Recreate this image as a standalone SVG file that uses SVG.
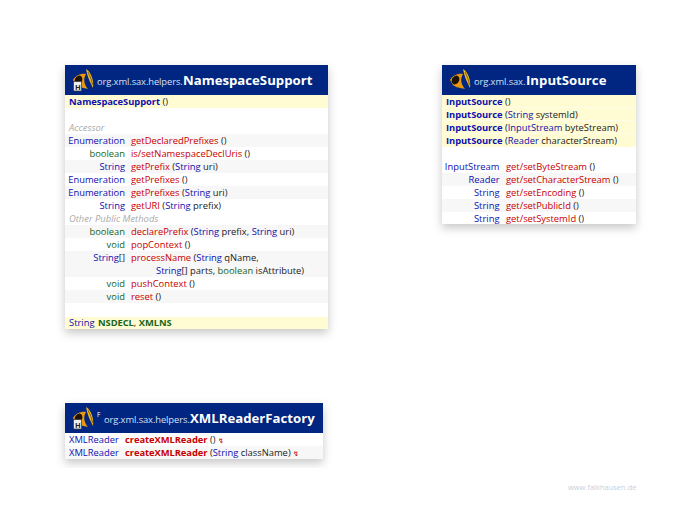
<svg xmlns="http://www.w3.org/2000/svg" xmlns:xlink="http://www.w3.org/1999/xlink" width="692" height="532" viewBox="0 0 692 532">
<style>
text{font-family:"Open Sans","Noto Sans","Liberation Sans",sans-serif;font-size:9.4px;fill:#222}
.r{text-anchor:end}
.t{fill:#1010b0}.p{fill:#1a661a}.m{fill:#c80000}
.b{font-weight:700;letter-spacing:-.06px}
.s{font-style:italic;fill:#aaa}
.h{fill:#d8e0f0;font-size:9.400px;letter-spacing:-.1px}
.n{fill:#fff;font-weight:700;font-size:13.200px}
.y{fill:#fffbd2}.z{fill:#f7f7f7}.hd{fill:#002681}
</style>
<defs>
<filter id="sh" x="-15%" y="-15%" width="130%" height="130%"><feDropShadow dx="0" dy="4" stdDeviation="5" flood-color="#000" flood-opacity=".22"/></filter>
<g id="horn">
<path d="M13 -2C18 1 21 9 20 17C17 11 14 5 13 -2Z" fill="#f0b820"/>
<path d="M15 1C17 5 19 10 19.500 14" fill="none" stroke="#6a4a00" stroke-width=".8"/>
<path d="M0 9C2 5 8 2 13 3C10 8 11 13 15 18C10 17 5 16 3 14Z" fill="#e89810"/>
<ellipse cx="5.500" cy="9" rx="3.600" ry="4.600" transform="rotate(30 5.500 9)" fill="#1a1006"/>
</g>
</defs>
<rect width="692" height="532" fill="#fff"/>
<g id="connectors"/>
<g id="NamespaceSupport">
<rect x="65" y="65" width="263" height="264" fill="#fff" filter="url(#sh)"/>
<rect class="hd" x="65" y="65" width="263" height="30"/>
<use xlink:href="#horn" href="#horn" x="73" y="71"/>
<rect x="73.500" y="81.500" width="8" height="9.500" fill="#eee" stroke="#333" stroke-width=".7"/>
<text x="75" y="89.500" style="font-size:7.500px;font-weight:700">H</text>
<text class="h" x="97" y="85">org.xml.sax.helpers.</text>
<text class="n" x="183" y="85">NamespaceSupport</text>
<rect class="y" x="65" y="95" width="263" height="13"/>
<rect class="z" x="65" y="134" width="263" height="13"/>
<rect class="z" x="65" y="160" width="263" height="13"/>
<rect class="z" x="65" y="186" width="263" height="13"/>
<rect class="z" x="65" y="225" width="263" height="13"/>
<rect class="z" x="65" y="251" width="263" height="26"/>
<rect class="z" x="65" y="290" width="263" height="13"/>
<rect class="y" x="65" y="317" width="263" height="12"/>
<text x="69" y="105"><tspan class="t b">NamespaceSupport</tspan> ()</text>
<text class="s" x="69" y="131">Accessor</text>
<text class="r t" x="125" y="144">Enumeration</text><text x="131" y="144"><tspan class="m">getDeclaredPrefixes</tspan> ()</text>
<text class="r p" x="125" y="157">boolean</text><text x="131" y="157"><tspan class="m">is/setNamespaceDeclUris</tspan> ()</text>
<text class="r t" x="125" y="170">String</text><text x="131" y="170"><tspan class="m">getPrefix</tspan> (<tspan class="t">String</tspan> uri)</text>
<text class="r t" x="125" y="183">Enumeration</text><text x="131" y="183"><tspan class="m">getPrefixes</tspan> ()</text>
<text class="r t" x="125" y="196">Enumeration</text><text x="131" y="196"><tspan class="m">getPrefixes</tspan> (<tspan class="t">String</tspan> uri)</text>
<text class="r t" x="125" y="209">String</text><text x="131" y="209"><tspan class="m">getURI</tspan> (<tspan class="t">String</tspan> prefix)</text>
<text class="s" x="69" y="222">Other Public Methods</text>
<text class="r p" x="125" y="235">boolean</text><text x="131" y="235"><tspan class="m">declarePrefix</tspan> (<tspan class="t">String</tspan> prefix, <tspan class="t">String</tspan> uri)</text>
<text class="r p" x="125" y="248">void</text><text x="131" y="248"><tspan class="m">popContext</tspan> ()</text>
<text class="r" x="125" y="261"><tspan class="t">String</tspan>[]</text><text x="131" y="261"><tspan class="m">processName</tspan> (<tspan class="t">String</tspan> qName,</text>
<text x="156" y="274"><tspan class="t">String</tspan>[] parts, <tspan class="p">boolean</tspan> isAttribute)</text>
<text class="r p" x="125" y="287">void</text><text x="131" y="287"><tspan class="m">pushContext</tspan> ()</text>
<text class="r p" x="125" y="300">void</text><text x="131" y="300"><tspan class="m">reset</tspan> ()</text>
<text x="69" y="326"><tspan class="t">String</tspan> <tspan class="p b" dx="1">NSDECL</tspan>, <tspan class="p b">XMLNS</tspan></text>
</g>
<g id="InputSource">
<rect x="442" y="65" width="194" height="159" fill="#fff" filter="url(#sh)"/>
<rect class="hd" x="442" y="65" width="194" height="30"/>
<use xlink:href="#horn" href="#horn" x="450" y="71"/>
<text class="h" x="474" y="85">org.xml.sax.</text>
<text class="n" x="526" y="85">InputSource</text>
<rect class="y" x="442" y="95" width="194" height="12.500"/>
<rect class="y" x="442" y="108" width="194" height="12.500"/>
<rect class="y" x="442" y="121" width="194" height="12.500"/>
<rect class="y" x="442" y="134" width="194" height="13"/>
<rect class="z" x="442" y="173" width="194" height="13"/>
<rect class="z" x="442" y="199" width="194" height="13"/>
<text x="446" y="105"><tspan class="t b">InputSource</tspan> ()</text>
<text x="446" y="118"><tspan class="t b">InputSource</tspan> (<tspan class="t">String</tspan> systemId)</text>
<text x="446" y="131"><tspan class="t b">InputSource</tspan> (<tspan class="t">InputStream</tspan> byteStream)</text>
<text x="446" y="144"><tspan class="t b">InputSource</tspan> (<tspan class="t">Reader</tspan> characterStream)</text>
<text class="r t" x="499.500" y="170">InputStream</text><text x="506" y="170"><tspan class="m">get/setByteStream</tspan> ()</text>
<text class="r t" x="499.500" y="183">Reader</text><text x="506" y="183"><tspan class="m">get/setCharacterStream</tspan> ()</text>
<text class="r t" x="499.500" y="196">String</text><text x="506" y="196"><tspan class="m">get/setEncoding</tspan> ()</text>
<text class="r t" x="499.500" y="209">String</text><text x="506" y="209"><tspan class="m">get/setPublicId</tspan> ()</text>
<text class="r t" x="499.500" y="222">String</text><text x="506" y="222"><tspan class="m">get/setSystemId</tspan> ()</text>
</g>
<g id="XMLReaderFactory">
<rect x="65" y="403" width="258" height="56" fill="#fff" filter="url(#sh)"/>
<rect class="hd" x="65" y="403" width="258" height="30"/>
<use xlink:href="#horn" href="#horn" x="73" y="409"/>
<rect x="73.500" y="419.500" width="8" height="9.500" fill="#eee" stroke="#333" stroke-width=".7"/>
<text x="75" y="427.500" style="font-size:7.500px;font-weight:700">H</text>
<text x="97" y="417" style="font-size:6.500px;fill:#fff">F</text>
<text class="h" x="104" y="423">org.xml.sax.helpers.</text>
<text class="n" x="190" y="423">XMLReaderFactory</text>
<rect class="z" x="65" y="446" width="258" height="13"/>
<text x="69" y="443"><tspan class="t">XMLReader</tspan></text><text x="125" y="443"><tspan class="m b">createXMLReader</tspan> () <tspan class="m" style="font-size:7px">↯</tspan></text>
<text x="69" y="456"><tspan class="t">XMLReader</tspan></text><text x="125" y="456"><tspan class="m b">createXMLReader</tspan> (<tspan class="t">String</tspan> className) <tspan class="m" style="font-size:7px">↯</tspan></text>
</g>
<text x="568" y="490" style="font-size:7.500px;fill:#c8d0e0">www.falkhausen.de</text>
</svg>
